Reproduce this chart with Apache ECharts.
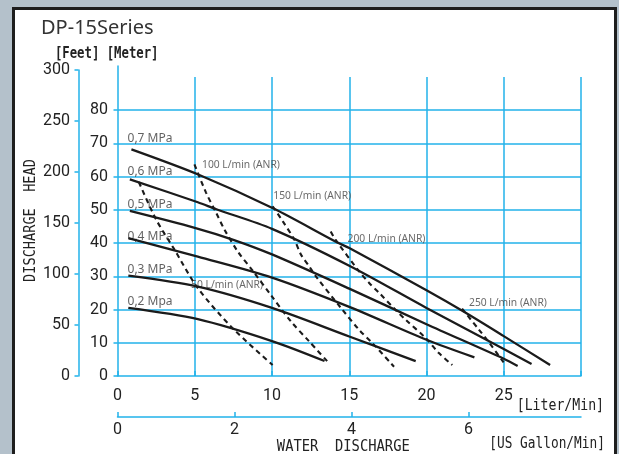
<!DOCTYPE html>
<html><head><meta charset="utf-8">
<script src="https://cdn.jsdelivr.net/npm/echarts@6/dist/echarts.min.js"></script>
<style>html,body{margin:0;padding:0;background:#b4c1cb;}#c{width:619px;height:454px;}</style>
</head><body><div id="c"></div>
<script>
// ---- axis ticks ----
const literTicks = [0, 5, 10, 15, 20, 25];
const gallonTicks = [0, 2, 4, 6];
const meterTicks = [0, 10, 20, 30, 40, 50, 60, 70, 80];
const feetTicks = [0, 50, 100, 150, 200, 250, 300];

// ---- pressure curves [Liter/min, meter] ----
const pressureNames = ['0,7 MPa', '0,6 MPa', '0,5 MPa', '0,4 MPa', '0,3 MPa', '0,2 Mpa'];
const p07 = [[0.9,68.2],[5.3,60.5],[10.1,50.4],[14.1,40.5],[15,38.5],[20,25.8],[22.4,19.4],[25,12.0],[28.0,3.3]];
const p06 = [[0.8,59.2],[5.2,52.3],[6.4,50.2],[10,44.3],[15,33.2],[20,20.5],[25,8.1],[26.8,3.6]];
const p05 = [[0.8,49.7],[5,44.6],[7.5,41.0],[10,36.6],[15,26.3],[20,15.6],[25,5.2],[25.9,3.0]];
const p04 = [[0.7,41.5],[5.2,35.9],[10,29.6],[15,20.8],[20,10.9],[23.1,5.6]];
const p03 = [[0.7,30.2],[5.2,26.9],[10,20.5],[15,11.9],[19.3,4.5]];
const p02 = [[0.7,20.5],[5.2,17.1],[10,10.5],[13.4,4.5]];
const pressureLabelAt = [[0.65,71.6],[0.65,61.6],[0.65,51.6],[0.65,41.9],[0.65,31.9],[0.65,22.3]];

// ---- air consumption curves ----
const airNames = ['50 L/min (ANR)', '100 L/min (ANR)', '150 L/min (ANR)', '200 L/min (ANR)', '250 L/min (ANR)'];
const a50 = [[1.38,58.4],[2.5,47.1],[3.68,38.1],[5.19,26.5],[7.45,14.4],[10.04,3.3]];
const a100 = [[4.98,63.7],[5.73,55.2],[6.38,49.2],[6.92,44.1],[7.78,37.5],[8.75,31.7],[9.95,24.2],[11.23,16.4],[12.41,10.4],[13.7,3.8]];
const a150 = [[10.04,51.1],[10.69,46.6],[11.44,41.1],[11.87,36.6],[12.41,33.0],[12.84,30.0],[14.46,20.5],[15.64,13.9],[16.5,9.9],[17.9,2.8]];
const a200 = [[13.8,43.5],[14.1,41.1],[15.64,31.5],[16.29,28.0],[16.94,25.0],[18.0,19.9],[18.66,16.9],[19.95,11.4],[20.8,6.9],[21.67,3.3]];
const a250 = [[22.3,20.3],[23.4,13.9],[24.05,10.1],[25.13,3.2]];
const airLabelAt = [[4.76,27.5],[5.47,63.5],[10.08,54.2],[14.89,41.1],[22.75,22.0]];

const LITER_PER_GAL = 3.785411784;
const literMax = 30, meterMax = 90, feetMax = 300;

const CYAN = '#22b2ea';
const NUM_FONT = "Roboto, sans-serif";
const MONO = "'DejaVu Sans Mono','Liberation Mono',monospace";

const chart = echarts.init(document.getElementById('c'), null, {renderer: 'canvas'});

const pressureSeries = [p07, p06, p05, p04, p03, p02].map((d, i) => ({
  type: 'line', name: pressureNames[i], data: d, xAxisIndex: 0, yAxisIndex: 0,
  smooth: 0.3, showSymbol: false, silent: true,
  lineStyle: {color: '#1b1b1b', width: 2.3}
}));
const airSeries = [a50, a100, a150, a200, a250].map((d, i) => ({
  type: 'line', name: airNames[i], data: d, xAxisIndex: 0, yAxisIndex: 0,
  smooth: 0.3, showSymbol: false, silent: true,
  lineStyle: {color: '#1b1b1b', width: 2.1, type: [5, 4]}
}));

const option = {
  animation: false,
  backgroundColor: '#b4c1cb',
  graphic: [
    {type: 'rect', z: -10, shape: {x: 13.5, y: 8.5, width: 602, height: 470},
     style: {fill: '#ffffff', stroke: '#1e1e1e', lineWidth: 3}},
    {type: 'text', x: 41, y: 28, style: {text: 'DP-15Series', font: "20px 'Noto Sans'", fill: '#333', textVerticalAlign: 'middle'}},
    {type: 'text', x: 106.7, y: 54, scaleY: 1.25, style: {text: '[Feet] [Meter]', font: "bold 12.3px " + MONO, fill: '#222', textAlign: 'center', textVerticalAlign: 'middle'}},
    {type: 'text', x: 31, y: 220.5, rotation: Math.PI / 2, scaleY: 1.2, style: {text: 'DISCHARGE  HEAD', font: "13.6px " + MONO, fill: '#222', textAlign: 'center', textVerticalAlign: 'middle'}},
    {type: 'text', x: 516.7, y: 406, scaleY: 1.2, style: {text: '[Liter/Min]', font: "13.2px " + MONO, fill: '#222', textVerticalAlign: 'middle'}},
    {type: 'text', x: 343.3, y: 446.5, scaleY: 1.2, style: {text: 'WATER  DISCHARGE', font: "13.8px " + MONO, fill: '#222', textAlign: 'center', textVerticalAlign: 'middle'}},
    {type: 'text', x: 489.3, y: 444, scaleY: 1.2, style: {text: '[US Gallon/Min]', font: "12.8px " + MONO, fill: '#222', textVerticalAlign: 'middle'}}
  ],
  grid: [
    {left: 117.5, top: 77, width: 463.5, height: 299, containLabel: false},
    {left: 117.5, top: 66, width: 463.5, height: 310, containLabel: false},
    {left: 78.5, top: 70, width: 10, height: 306, containLabel: false}
  ],
  xAxis: [
    {gridIndex: 0, type: 'value', min: 0, max: literMax, interval: 5, position: 'bottom', offset: 6,
     axisLine: {show: true, lineStyle: {color: CYAN, width: 1.5}},
     axisTick: {show: true, inside: true, length: 5, lineStyle: {color: CYAN, width: 1.5}},
     axisLabel: {show: true, customValues: literTicks, margin: 6, fontFamily: NUM_FONT, fontSize: 16, color: '#222'},
     splitLine: {show: true, showMinLine: false, lineStyle: {color: CYAN, width: 1.5}}},
    {gridIndex: 0, type: 'value', min: 0, max: literMax / LITER_PER_GAL, interval: 2, position: 'bottom', offset: 41,
     axisLine: {show: true, lineStyle: {color: CYAN, width: 1.5}},
     axisTick: {show: true, inside: true, length: 5, customValues: gallonTicks, lineStyle: {color: CYAN, width: 1.5}},
     axisLabel: {show: true, customValues: gallonTicks, margin: 5, fontFamily: NUM_FONT, fontSize: 16, color: '#222'},
     splitLine: {show: false}},
    {gridIndex: 1, type: 'value', min: 0, max: literMax, show: false},
    {gridIndex: 2, type: 'value', min: 0, max: 1, show: false}
  ],
  yAxis: [
    {gridIndex: 0, type: 'value', min: 0, max: meterMax, interval: 10,
     axisLine: {show: false},
     axisTick: {show: true, length: 4, customValues: meterTicks, lineStyle: {color: CYAN, width: 1.5}},
     axisLabel: {show: true, customValues: meterTicks, margin: 9.5, fontFamily: NUM_FONT, fontSize: 16, color: '#222'},
     splitLine: {show: true, showMinLine: false, lineStyle: {color: CYAN, width: 1.5}}},
    {gridIndex: 1, type: 'value', min: 0, max: 1,
     axisLine: {show: true, lineStyle: {color: CYAN, width: 1.5}},
     axisTick: {show: false}, axisLabel: {show: false}, splitLine: {show: false}},
    {gridIndex: 2, type: 'value', min: 0, max: feetMax, interval: 50,
     axisLine: {show: true, lineStyle: {color: CYAN, width: 1.5}},
     axisTick: {show: true, length: 4, customValues: feetTicks, lineStyle: {color: CYAN, width: 1.5}},
     axisLabel: {show: true, customValues: feetTicks, margin: 8.5, fontFamily: NUM_FONT, fontSize: 16, color: '#222'},
     splitLine: {show: false}}
  ],
  series: [
    ...pressureSeries,
    ...airSeries,
    {type: 'scatter', xAxisIndex: 0, yAxisIndex: 0, symbolSize: 0, silent: true,
     data: pressureLabelAt.map((p, i) => ({value: p, name: pressureNames[i]})),
     label: {show: true, position: 'right', distance: 0, formatter: '{b}', fontFamily: "'Noto Sans'", fontSize: 12, color: '#3a3a3a'}},
    {type: 'scatter', xAxisIndex: 0, yAxisIndex: 0, symbolSize: 0, silent: true,
     data: airLabelAt.map((p, i) => ({value: p, name: airNames[i]})),
     label: {show: true, position: 'right', distance: 0, formatter: '{b}', fontFamily: "'Noto Sans'", fontSize: 10.3, color: '#444'}}
  ]
};
chart.setOption(option);
</script></body></html>
